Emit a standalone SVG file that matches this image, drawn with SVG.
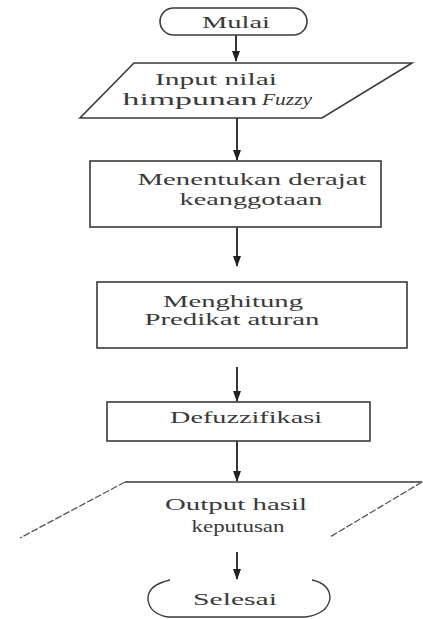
<svg xmlns="http://www.w3.org/2000/svg" width="423" height="619" viewBox="0 0 423 619">
<style>
.s{fill:#fff;stroke:#3a3a3a;stroke-width:1.6}
.o{fill:none;stroke:#3a3a3a;stroke-width:1.4}
.d{fill:none;stroke:#555;stroke-width:1.3;stroke-dasharray:7 2}
.t{font-family:"Liberation Serif","Times New Roman",serif;font-size:16.5px;fill:#3a3a3a;text-anchor:middle}
.c{stroke:#222;stroke-width:1.8;fill:none;marker-end:url(#ah)}
</style>
<defs>
<marker id="ah" markerWidth="11" markerHeight="8" refX="10" refY="4" orient="auto" markerUnits="userSpaceOnUse">
<path d="M0,0 L11,4 L0,8 Z" fill="#222"/>
</marker>
</defs>
<rect width="423" height="619" fill="#fff"/>
<g id="connectors">
<line class="c" x1="236" y1="35" x2="236" y2="61"/>
<line class="c" x1="237" y1="118" x2="237" y2="160"/>
<line class="c" x1="237" y1="227" x2="237" y2="266"/>
<line class="c" x1="237" y1="367" x2="237" y2="401"/>
<line class="c" x1="237" y1="441" x2="237" y2="481"/>
<line class="c" x1="237" y1="552" x2="237" y2="579"/>
</g>
<g id="mulai">
<rect class="s" x="160" y="8" width="147" height="27" rx="13.5"/>
<text class="t" x="236" y="28" textLength="68" lengthAdjust="spacingAndGlyphs">Mulai</text>
</g>
<g id="input">
<polygon class="s" points="134,63 412,63 322,118 80,118"/>
<text class="t" x="216" y="85" textLength="122" lengthAdjust="spacingAndGlyphs">Input  nilai</text>
<text class="t" x="190" y="105" textLength="135" lengthAdjust="spacingAndGlyphs">himpunan</text>
<text class="t" x="287" y="105" textLength="50" lengthAdjust="spacingAndGlyphs" font-style="italic">Fuzzy</text>
</g>
<g id="derajat">
<rect class="s" x="90" y="161" width="291" height="66"/>
<text class="t" x="252" y="185" textLength="229" lengthAdjust="spacingAndGlyphs">Menentukan derajat</text>
<text class="t" x="251" y="205" textLength="143" lengthAdjust="spacingAndGlyphs">keanggotaan</text>
</g>
<g id="predikat">
<rect class="s" x="97" y="282" width="310" height="66"/>
<text class="t" x="233" y="307" textLength="140" lengthAdjust="spacingAndGlyphs">Menghitung</text>
<text class="t" x="232" y="325" textLength="175" lengthAdjust="spacingAndGlyphs">Predikat aturan</text>
</g>
<g id="defuzzifikasi">
<rect class="s" x="107" y="402" width="263" height="39"/>
<text class="t" x="246" y="423" textLength="152" lengthAdjust="spacingAndGlyphs">Defuzzifikasi</text>
</g>
<g id="output">
<line class="o" x1="125" y1="482" x2="422" y2="482"/>
<line class="d" x1="125" y1="482" x2="20" y2="538"/>
<line class="d" x1="422" y1="482" x2="330" y2="537"/>
<text class="t" x="236" y="510" textLength="142" lengthAdjust="spacingAndGlyphs">Output hasil</text>
<text class="t" x="238" y="532" textLength="93" lengthAdjust="spacingAndGlyphs">keputusan</text>
</g>
<g id="selesai">
<path class="o" d="M170,580 Q147,585 148,600 Q150,614 168,617 L305,617 Q328,614 330,598 Q330,584 312,580"/>
<text class="t" x="235" y="605" textLength="84" lengthAdjust="spacingAndGlyphs">Selesai</text>
</g>
</svg>
